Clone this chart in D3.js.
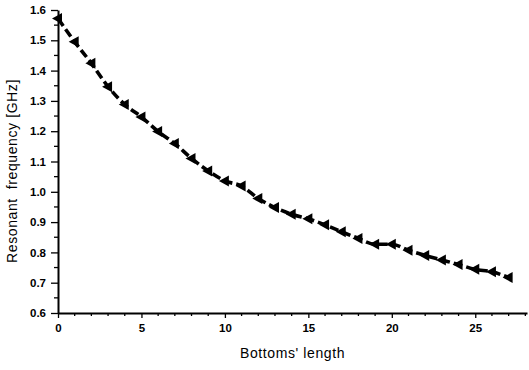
<!DOCTYPE html>
<html>
<head>
<meta charset="utf-8">
<script src="https://cdn.jsdelivr.net/npm/d3@7"></script>
<style>
  html, body { margin: 0; padding: 0; background: #fff; }
  svg { display: block; }
  .tick text { font-family: "Liberation Sans", Arial, sans-serif; font-weight: bold; }
</style>
</head>
<body>
<svg id="chart" width="529" height="370"></svg>
<script>
// Bottoms' length (x) and resonant frequency in GHz (y)
const lengths = [0, 1, 2, 3, 4, 5, 6, 7, 8, 9, 10, 11, 12, 13, 14, 15, 16, 17, 18, 19, 20, 21, 22, 23, 24, 25, 26, 27];
const frequency = [1.572, 1.495, 1.424, 1.347, 1.288, 1.247, 1.199, 1.159, 1.110, 1.069, 1.036, 1.019, 0.978, 0.948,
                   0.926, 0.911, 0.891, 0.868, 0.846, 0.827, 0.827, 0.807, 0.790, 0.775, 0.760, 0.744, 0.736, 0.717];
const xTicks = [0, 5, 10, 15, 20, 25];
const yTicks = [0.6, 0.7, 0.8, 0.9, 1.0, 1.1, 1.2, 1.3, 1.4, 1.5, 1.6];
const xTitle = "Bottoms' length";
const yTitle = "Resonant  frequency [GHz]";

const svg = d3.select("#chart");
const plotLeft = 58, plotRight = 527, plotTop = 10, plotBottom = 313;

const x = d3.scaleLinear().domain([0, 28.1]).range([plotLeft, plotRight]);
const y = d3.scaleLinear().domain([0.6, 1.6]).range([plotBottom, plotTop]);

// minor ticks
const xMinor = d3.range(0, 28.01, 1).filter(v => v % 5 !== 0);
const yMinor = d3.range(0.65, 1.6, 0.1);

const xAxis = svg.append("g").attr("transform", `translate(0,${plotBottom})`)
  .call(d3.axisBottom(x).tickValues(xTicks).tickFormat(d3.format("d")).tickSizeInner(5).tickSizeOuter(0).tickPadding(6));
xAxis.selectAll("line").attr("stroke", "#000").attr("stroke-width", 1.3);
xAxis.select(".domain").attr("stroke", "#000").attr("stroke-width", 2);
xAxis.selectAll("text").attr("font-size", 11.5).attr("fill", "#000");
xAxis.selectAll(".minor").data(xMinor).enter().append("line")
  .attr("class", "minor")
  .attr("x1", d => x(d)).attr("x2", d => x(d)).attr("y1", 0).attr("y2", 3)
  .attr("stroke", "#000").attr("stroke-width", 1.3);

const yAxis = svg.append("g").attr("transform", `translate(${plotLeft},0)`)
  .call(d3.axisLeft(y).tickValues(yTicks).tickFormat(d3.format(".1f")).tickSizeInner(7).tickSizeOuter(0).tickPadding(5));
yAxis.selectAll("line").attr("stroke", "#000").attr("stroke-width", 1.3);
yAxis.select(".domain").attr("stroke", "#000").attr("stroke-width", 2);
yAxis.selectAll("text").attr("font-size", 11.5).attr("fill", "#000");
yAxis.selectAll(".minor").data(yMinor).enter().append("line")
  .attr("class", "minor")
  .attr("x1", -4).attr("x2", 0).attr("y1", d => y(d)).attr("y2", d => y(d))
  .attr("stroke", "#000").attr("stroke-width", 1.3);

// axis titles
svg.append("text")
  .attr("x", (plotLeft + plotRight) / 2).attr("y", 358)
  .attr("text-anchor", "middle")
  .attr("font-family", "Liberation Sans, Arial, sans-serif")
  .attr("font-size", 14).attr("letter-spacing", 0.6).attr("fill", "#000")
  .style("white-space", "pre")
  .text(xTitle);
svg.append("text")
  .attr("transform", "translate(17,171) rotate(-90)")
  .attr("text-anchor", "middle")
  .attr("font-family", "Liberation Sans, Arial, sans-serif")
  .attr("font-size", 14).attr("letter-spacing", 0.6).attr("fill", "#000")
  .style("white-space", "pre")
  .text(yTitle);

const pts = lengths.map((d, i) => [d, frequency[i]]);

// dashed curve
svg.append("path")
  .datum(pts)
  .attr("fill", "none")
  .attr("stroke", "#000")
  .attr("stroke-width", 3.6)
  .attr("stroke-dasharray", "9,4")
  .attr("d", d3.line().x(d => x(d[0])).y(d => y(d[1])).curve(d3.curveMonotoneX));

// left-pointing triangle markers
svg.append("g").selectAll("path")
  .data(pts)
  .enter().append("path")
  .attr("transform", d => `translate(${x(d[0])},${y(d[1])})`)
  .attr("d", "M-6,0 L4,-5.5 L4,5.5 Z")
  .attr("fill", "#000");
</script>
</body>
</html>
